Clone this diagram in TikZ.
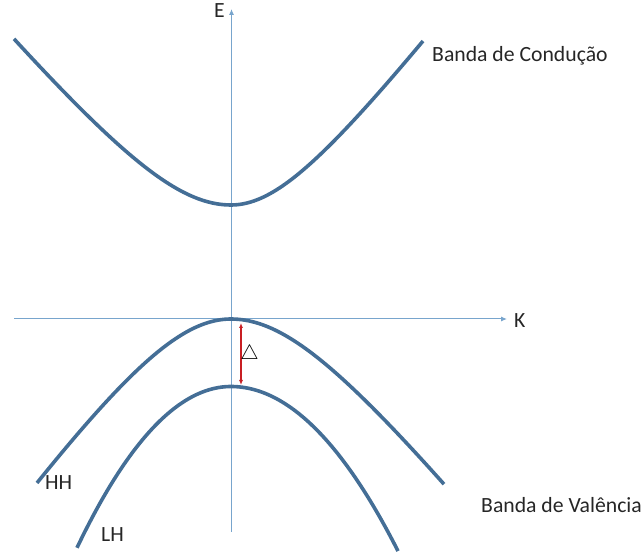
\documentclass[tikz,border=0pt]{standalone}
\usepackage{fontspec}
\setmainfont{Carlito}
\usetikzlibrary{arrows.meta}
\definecolor{axisblue}{RGB}{120,165,205}
\definecolor{bandblue}{RGB}{68,110,150}
\definecolor{gapred}{RGB}{200,30,35}

\begin{document}
\begin{tikzpicture}[x=1pt,y=-1pt,font=\fontsize{21.7}{26}\selectfont,
axis/.style={draw=axisblue,line width=1pt,-{Latex[length=6pt,width=5pt]}},
band/.style={draw=bandblue,line width=3.6pt,samples=60},
gap/.style={draw=gapred,line width=1.2pt,{Latex[length=5pt,width=4pt]}-{Latex[length=5pt,width=4pt]}},
lbl/.style={inner sep=0pt,anchor=base west,text=black!85}]
\useasboundingbox (0,0) rectangle (641,556);
% eixos
\coordinate (kstart) at (14,319);
\coordinate (kend) at (507,319);
\coordinate (estart) at (231.5,532);
\coordinate (eend) at (231.5,9);
\draw[axis] (kstart)--(kend);
\draw[axis] (estart)--(eend);
\node[lbl] (elabel) at (214,18) {E};
\node[lbl] (klabel) at (514,328) {K};
% bandas (\x em unidades de 10px a partir do eixo E)
\draw[band] plot[domain=-21.7:0] ({231+10*\x},{205-10*(sqrt(12.1*12.1+(1.2*\x)^2)-12.1)})
  -- plot[domain=0:19.2] ({231+10*\x},{205-10*(sqrt(10.8*10.8+(1.3*\x)^2)-10.8)});
\draw[band] plot[domain=-19.4:0] ({231+10*\x},{319+10*(sqrt(14.3*14.3+(1.4*\x)^2)-14.3)})
  -- plot[domain=0:21.3] ({231+10*\x},{319+10*(sqrt(13.2*13.2+(1.25*\x)^2)-13.2)});
\draw[band] plot[domain=-15.4:0] ({231+10*\x},{386.5+0.68*\x*\x})
  -- plot[domain=0:16.7] ({231+10*\x},{386.5+0.59*\x*\x});
\node[lbl] (cond) at (432,62) {Banda de Condução};
\node[lbl] (val) at (481,513) {Banda de Valência};
\node[lbl] (hh) at (45,490) {HH};
\node[lbl] (lh) at (101,542) {LH};
% gap
\coordinate (hhtop) at (241,323);
\coordinate (lhtop) at (241,385);
\draw[gap] (hhtop)--(lhtop);
\node[inner sep=0pt] (delta) at (249.5,354) {\(\triangle\)};
\end{tikzpicture}
\end{document}
